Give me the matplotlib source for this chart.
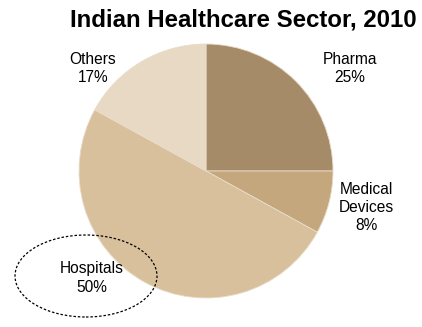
import matplotlib
matplotlib.use('Agg')
import matplotlib.pyplot as plt
from matplotlib.patches import Ellipse

# data
sectors = ["Pharma", "Medical\nDevices", "Hospitals", "Others"]
shares = [25, 8, 50, 17]
colors = ["#A58B68", "#C4A77D", "#D9C09C", "#E8D9C5"]

W, H = 422, 327
fig = plt.figure(figsize=(W / 100, H / 100), dpi=100)
plt.rcParams['font.family'] = ['Liberation Sans', 'DejaVu Sans']

# pie centre (206, 171) px, radius 127 px
cx, cy, r = 206, 171, 127
ax = fig.add_axes([(cx - r) / W, (H - cy - r) / H, 2 * r / W, 2 * r / H])
ax.pie(shares, colors=colors, startangle=90, counterclock=False,
       wedgeprops=dict(linewidth=0.6, edgecolor="#E8DCC8"))
ax.set_xlim(-1, 1)
ax.set_ylim(-1, 1)
ax.set_aspect('equal')
ax.axis('off')

fig.text(243 / W, 1 - 20 / H, "Indian Healthcare Sector, 2010",
         ha='center', va='center', fontsize=17.3, fontweight='bold')

# label positions in pixels (x, y from top)
label_pos = [(350, 68), (366, 208), (92, 278), (93, 68)]
for name, val, (px, py) in zip(sectors, shares, label_pos):
    fig.text(px / W, 1 - py / H, f"{name}\n{val}%", ha='center', va='center',
             fontsize=11.2, linespacing=1.25)

# dashed ellipse around hospitals label
ell = Ellipse((86 / W, 1 - 276 / H), 142 / W, 82 / H, transform=fig.transFigure,
              fill=False, linestyle=(0, (2, 1.5)), linewidth=0.9, edgecolor='black')
fig.add_artist(ell)

fig.savefig("out.png", dpi=100)
